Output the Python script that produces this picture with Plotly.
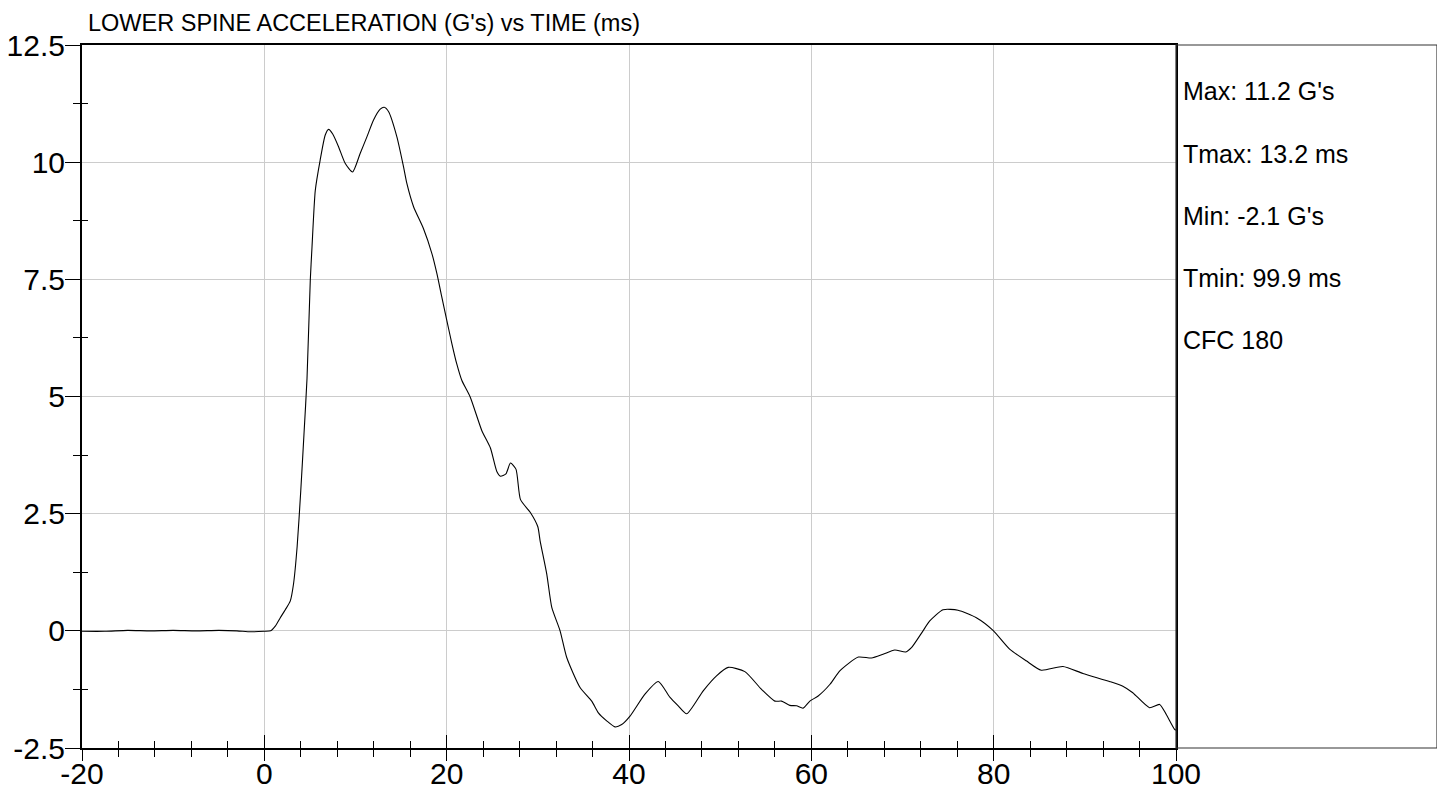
import plotly.graph_objects as go

# ---- data ----
time_ms = [-20, -17.5, -15, -12.5, -10, -7.5, -5, -3, -1.5, 0, 0.7, 1.2, 1.75, 2.3, 2.85, 3.2,
           3.6, 4.0, 4.35, 4.68, 5.04, 5.23, 5.59, 6.12, 6.68, 7.05, 7.5, 8.14, 8.88, 9.68, 10.52,
           11.25, 11.98, 12.71, 13.15, 13.62, 14.54, 15.27, 15.64, 16.37, 17.46, 18.38, 18.93,
           19.47, 20.02, 20.57, 21.1, 21.67, 22.58, 23.86, 24.8, 25.5, 25.9, 26.5, 27.0, 27.6,
           28.1, 29.2, 30.0, 30.25, 30.98, 31.53, 32.44, 33.17, 34.63, 35.91, 36.64, 37.55, 38.47,
           39.2, 40.11, 41.75, 43.21, 44.5, 45.4, 46.33, 48.14, 49.6, 50.88, 52.71, 54.54,
           56.0, 56.73, 57.64, 58.38, 59.1, 59.84, 60.75, 62.05, 63.15, 65.16, 66.6, 67.87,
           69.15, 70.36, 70.98, 72.25, 72.99, 74.45, 76.09, 78.1, 79.93, 81.75, 83.58, 85.22,
           87.6, 89.79, 92.71, 94.17, 95.26, 97.1, 98.2, 98.92, 99.84, 100]
accel_g = [-0.01, -0.01, 0.01, 0.0, 0.01, 0.0, 0.01, 0.0, -0.02, -0.01, 0.0, 0.1, 0.28, 0.45, 0.64, 1.0,
           1.8, 3.0, 4.2, 5.38, 7.48, 8.19, 9.4, 10.04, 10.58, 10.70, 10.6, 10.33, 9.97, 9.79, 10.19,
           10.54, 10.9, 11.13, 11.17, 11.08, 10.54, 9.9, 9.54, 9.05, 8.58, 8.05, 7.62,
           7.12, 6.62, 6.13, 5.7, 5.34, 4.99, 4.27, 3.9, 3.4, 3.3, 3.35, 3.58, 3.45,
           2.8, 2.52, 2.22, 1.92, 1.21, 0.5, 0.0, -0.57, -1.21, -1.5, -1.75, -1.92, -2.05,
           -2.0, -1.82, -1.35, -1.08, -1.42, -1.6, -1.77, -1.28, -0.96, -0.78, -0.87, -1.25,
           -1.5, -1.5, -1.59, -1.6, -1.65, -1.5, -1.39, -1.14, -0.85, -0.56, -0.58, -0.5,
           -0.41, -0.45, -0.36, 0.0, 0.21, 0.45, 0.44, 0.28, 0.01, -0.39, -0.64, -0.84,
           -0.76, -0.91, -1.08, -1.18, -1.32, -1.64, -1.57, -1.78, -2.1, -2.12]

x_major = [-20, 0, 20, 40, 60, 80, 100]
x_major_text = ["-20", "0", "20", "40", "60", "80", "100"]
x_minor = [-16, -12, -8, -4, 4, 8, 12, 16, 24, 28, 32, 36, 44, 48, 52, 56, 64, 68, 72, 76, 84, 88, 92, 96]
y_major = [-2.5, 0, 2.5, 5, 7.5, 10, 12.5]
y_major_text = ["-2.5", "0", "2.5", "5", "7.5", "10", "12.5"]
y_minor = [-1.25, 1.25, 3.75, 6.25, 8.75, 11.25]

title_text = "LOWER SPINE ACCELERATION (G's) vs TIME (ms)"
stats_lines = ["Max: 11.2 G's", "Tmax: 13.2 ms", "Min: -2.1 G's", "Tmin: 99.9 ms", "CFC 180"]

FONT = "Liberation Sans, Arial, sans-serif"

fig = go.Figure()
fig.add_trace(go.Scatter(x=time_ms, y=accel_g, mode="lines",
                         line=dict(color="black", width=1.1, shape="spline", smoothing=0.6),
                         hoverinfo="skip", showlegend=False))
# invisible twin trace to activate inside-tick overlay axes
fig.add_trace(go.Scatter(x=time_ms, y=accel_g, mode="lines", xaxis="x2", yaxis="y2",
                         line=dict(color="rgba(0,0,0,0)", width=0),
                         hoverinfo="skip", showlegend=False))

# the page body adds an 8px offset, compensated in the margins
fig.update_layout(
    width=1445, height=794,
    margin=dict(l=74, r=277, t=37, b=54, autoexpand=False),
    paper_bgcolor="white", plot_bgcolor="white",
    font=dict(family=FONT, color="black"),
    xaxis=dict(range=[-20, 100], tickmode="array", tickvals=x_major, ticktext=x_major_text,
               ticks="outside", ticklen=11, tickwidth=1, tickcolor="black",
               showline=True, linecolor="black", linewidth=2, mirror=True,
               showgrid=True, gridcolor="#cccccc", gridwidth=1, zeroline=False,
               tickfont=dict(size=30, family=FONT), ticklabelstandoff=-13,
               minor=dict(tickvals=x_minor, ticks="outside", ticklen=7, tickwidth=1,
                          tickcolor="black", showgrid=False)),
    xaxis2=dict(range=[-20, 100], overlaying="x", anchor="y2", side="bottom",
                tickmode="array", tickvals=x_major, ticks="inside", ticklen=13, tickwidth=1,
                tickcolor="black", showticklabels=False, showgrid=False, showline=False,
                zeroline=False,
                minor=dict(tickvals=x_minor, ticks="inside", ticklen=7, tickwidth=1,
                           tickcolor="black", showgrid=False)),
    yaxis=dict(range=[-2.5, 12.5], tickmode="array", tickvals=y_major, ticktext=y_major_text,
               ticks="outside", ticklen=15, tickwidth=1, tickcolor="black",
               showline=True, linecolor="black", linewidth=2, mirror=True,
               showgrid=True, gridcolor="#cccccc", gridwidth=1, zeroline=False,
               tickfont=dict(size=30, family=FONT), ticklabelstandoff=-6,
               minor=dict(tickvals=y_minor, ticks="outside", ticklen=7, tickwidth=1,
                          tickcolor="black", showgrid=False)),
    yaxis2=dict(range=[-2.5, 12.5], overlaying="y", anchor="x2", side="left",
                tickmode="array", tickvals=y_minor, ticks="inside", ticklen=6, tickwidth=1,
                tickcolor="black", showticklabels=False, showgrid=False, showline=False,
                zeroline=False),
)

# stats panel box
fig.add_shape(type="rect", xref="paper", yref="paper", x0=1.0, x1=1.2386, y0=0, y1=1,
              line=dict(color="#333333", width=1.2), fillcolor="rgba(0,0,0,0)", layer="above")

fig.add_annotation(text=title_text, xref="paper", yref="paper", x=0.0035, y=1.031,
                   xanchor="left", yanchor="middle", showarrow=False,
                   font=dict(size=23.5, family=FONT, color="black"))

stat_y = [0.9346, 0.845, 0.7568, 0.6686, 0.5804]
for txt, yy in zip(stats_lines, stat_y):
    fig.add_annotation(text=txt, xref="paper", yref="paper", x=1.0045, y=yy,
                       xanchor="left", yanchor="middle", showarrow=False,
                       font=dict(size=25, family=FONT, color="black"))

fig.write_html("out.html")
